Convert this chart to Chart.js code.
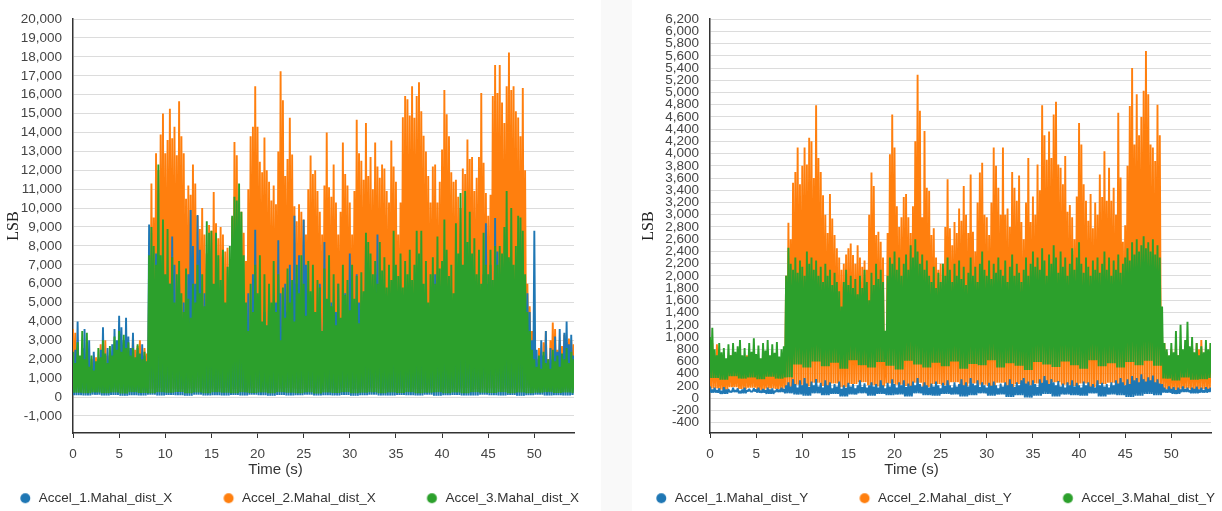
<!DOCTYPE html>
<html>
<head>
<meta charset="utf-8">
<script src="https://cdn.jsdelivr.net/npm/chart.js@4.4.1/dist/chart.umd.min.js"></script>
<style>
  html, body { margin: 0; padding: 0; background: #ffffff; overflow: hidden; width: 1222px; height: 511px; }
  #band { position: absolute; left: 601px; top: 0; width: 31px; height: 511px; background: #f9f9f9; }
  canvas { position: absolute; top: 0; }
</style>
</head>
<body>
<div id="band"></div>
<canvas id="chartX" width="625" height="515" style="left:-37px"></canvas>
<canvas id="chartY" width="625" height="515" style="left:599px"></canvas>
<script>
// ---------- data ----------
const SAMPLE_DT = 0.25;          // seconds between envelope samples
const seriesNamesX = ['Accel_1.Mahal_dist_X', 'Accel_2.Mahal_dist_X', 'Accel_3.Mahal_dist_X'];
const seriesNamesY = ['Accel_1.Mahal_dist_Y', 'Accel_2.Mahal_dist_Y', 'Accel_3.Mahal_dist_Y'];
const xAxisTitle = 'Time (s)';
const yAxisTitle = 'LSB';
const timeTicks = [0, 5, 10, 15, 20, 25, 30, 35, 40, 45, 50];
const lsbTicksX = [-1000, 0, 1000, 2000, 3000, 4000, 5000, 6000, 7000, 8000, 9000, 10000,
                   11000, 12000, 13000, 14000, 15000, 16000, 17000, 18000, 19000, 20000];
const lsbTicksY = [-400, -200, 0, 200, 400, 600, 800, 1000, 1200, 1400, 1600, 1800, 2000,
                   2200, 2400, 2600, 2800, 3000, 3200, 3400, 3600, 3800, 4000, 4200, 4400,
                   4600, 4800, 5000, 5200, 5400, 5600, 5800, 6000, 6200];

// Left chart (X) - local peak values, 4 per second
const accel1X = [
 1500,2500,4000,1800, 2600,3600,2000,3000, 1500,2400,1200,2000, 2500,3700,1800,2600,
 2000,2800,3600,3000, 4300,3700,3000,4200, 3200,2600,3400,2000, 2600,1800,2800,2200,
 1800,9130,6000,4500, 7600,3500,5000,3000, 4500,3000,6000,8500, 7000,4500,6000,3500,
 5000,4000,6500,9900, 8000,6000,9640,7800, 4000,5500,3000,4500, 3500,5500,3000,4000,
 5200,3000,4500,3500, 2500,4000,3000,4800, 3500,5000,3000,4000, 5500,3500,6500,8850,
 5200,4000,3000,4500, 3500,5500,3000,4000, 5000,8300,5500,3500, 6000,4500,7000,5000,
 9600,6000,7500,5000, 9380,7000,5500,4000, 5000,3000,4500,6000, 2500,8200,4000,3000,
 5000,3500,4500,6000, 3000,4000,5500,3500, 7600,4500,3000,6500, 5000,3500,5500,8000,
 4500,3000,5000,6500, 8600,5000,3500,4500, 3000,5500,4000,3000, 5000,3500,4500,3000,
 5500,4000,3000,4500, 3500,5000,3000,4000, 5500,3500,4500,3000, 4000,6500,5500,3500,
 4500,3000,5000,3500, 4000,3000,5500,4000, 3000,4500,3500,5000, 4000,3000,4500,5500,
 3500,4500,6500,9200, 6000,7000,5000,9480, 7700,5500,6500,4500, 3500,5000,3000,4500,
 3500,5000,4000,3000, 6000,5500,4500,3000, 8800,2500,1800,3000, 2200,3500,1800,2600,
 2000,3200,2400,3600, 2000,3400,4000,2800, 3300,2200
];
const accel2X = [
 3600,3400,2600,2000, 2400,1800,2300,1700, 2000,2200,2100,1600, 2800,2300,3000,2200,
 2400,1900,2800,2300, 2500,2000,2700,2900, 2400,2600,3300,2500, 2700,3000,2400,2600,
 2300,6000,11300,9500, 12900,12000,13900,15000, 12900,13600,15250,13700, 14300,12800,15650,13800,
 12900,10500,11200,10700, 12300,11300,9600,8900, 10000,8600,7600,9100, 8800,10850,9200,8400,
 9000,8600,7700,7900, 6800,9500,13500,12800, 7500,9800,8700,7200, 11000,13800,14300,16450,
 14300,12450,11900,13730, 12000,11400,10400,11200, 10200,13000,17240,15700, 11700,12600,14780,12840,
 10100,9300,10200,9800, 9400,8600,11000,12780, 11800,12000,10900,9800, 8600,11200,14000,11100,
 10600,12300,10300,8600, 9800,13470,11800,11200, 10300,8600,10900,14680, 12900,12500,11500,14500,
 11700,12700,11000,13470, 12200,11600,12300,12100, 10900,10300,13570,12200, 11400,8600,10300,14800,
 15930,15760,14900,16450, 14780,15930,16660,15130, 13830,13000,11700,10300, 12200,12300,10300,11400,
 13100,16250,14960,13800, 11900,11400,11500,10600, 10000,12100,11800,13630, 12600,12700,10900,11600,
 12700,16090,12400,10800, 9600,10700,15930,17570, 16090,17570,15590,14500, 16450,18230,16250,16450,
 15130,14790,13800,16350, 12000,6000,4800,3500, 2400,2000,2600,2200, 2900,3500,2000,3000,
 3950,3600,2500,3000, 2700,3300,2900,3100, 3000,2800
];
const accel3X = [
 2400,1800,2900,2200, 3500,2000,3400,1600, 2200,1400,1900,2600, 2100,3000,2300,1800,
 2700,2200,3200,2500, 3500,2400,3300,2600, 2900,2200,2600,2100, 2800,2300,2000,2400,
 1900,7500,9000,8000, 7000,12300,7500,9400, 6500,8900,6000,7400, 5000,6500,7200,5500,
 4500,6800,5200,4200, 6000,5000,7000,5500, 6500,4800,9300,8700, 8800,6000,8700,7500,
 6200,7800,5000,6900, 8000,9600,10600,10400, 11300,9800,7500,5000, 3500,6000,4500,7000,
 5500,7500,4000,6500, 3800,6000,5000,7200, 4500,6500,3000,5800, 4200,6800,5000,6200,
 4000,7000,5500,7500, 6000,4300,7200,5600, 7000,4500,6200,5800, 3500,6800,5200,7500,
 4800,6500,3800,6000, 4200,7000,5400,6200, 4600,7000,5200,6400, 3900,6600,5600,8700,
 8200,7600,6500,7200, 6000,8200,6700,7400, 5800,7000,6200,8800, 7000,6400,7600,5800,
 7200,6500,7800,6200, 7000,8800,7600,8800, 6000,7200,5000,6500, 7400,6000,8500,6800,
 7200,9400,7800,6400, 7000,5500,9200,7600, 10800,7000,10900,8200, 9800,7600,8400,6500,
 7800,6000,8700,7000, 6500,7800,6200,8000, 7000,8000,7600,9000, 10900,7400,10000,7000,
 8000,9600,9500,8800, 6500,4500,3500,2500, 2000,1600,2200,1500, 2400,1800,2000,1500,
 2500,1900,2200,1600, 2300,2000,2600,1800, 2400,2000
];
// Left chart (X) - local minima, 1 per second
const accel1XFloor = [
 100,80,120,90,110,70,100,90,120,80, 110,100,70,120,90,100,80,110,90,120,
 100,70,110,90,100,120,80,100,90,110, 70,100,120,90,80,110,100,90,120,70,
 100,110,90,80,120,100,90,110,70,100, 120,90,100,80,110
];
const accel2XFloor = [
 450,420,480,440,460,430,470,450,440,480, 460,430,450,470,440,460,480,430,450,470,
 440,460,450,480,430,470,450,440,460,480, 430,450,470,440,460,450,480,430,470,450,
 440,460,480,430,450,470,440,460,450,480, 430,470,450,440,460
];
const accel3XFloor = [
 230,200,250,210,240,190,260,220,200,250, 230,270,210,240,200,260,230,210,250,220,
 240,200,260,230,210,250,190,240,220,260, 200,230,250,210,240,220,260,200,230,250,
 210,240,200,260,230,220,250,210,240,200, 230,260,220,240,210
];

// Right chart (Y) - local peak values, 4 per second
const accel1Y = [
 190,140,170,130, 160,120,180,140, 150,110,170,130, 160,120,140,170,
 130,150,110,160, 140,170,120,150, 130,170,140,160, 120,150,140,170,
 150,210,260,190, 310,230,170,290, 210,330,240,180, 270,210,310,190,
 250,170,290,210, 260,160,230,190, 270,150,210,170, 250,190,230,160,
 210,290,180,240, 170,210,260,190, 230,170,290,210, 160,250,190,310,
 230,170,260,210, 290,180,240,200, 270,210,330,230, 190,260,210,170,
 240,190,270,210, 160,250,200,290, 210,170,260,190, 230,310,210,260,
 190,330,240,210, 290,180,260,210, 170,250,200,270, 210,160,240,190,
 260,210,310,230, 180,260,210,290, 330,240,270,210, 290,230,180,310,
 250,360,290,230, 310,260,210,280, 190,240,170,260, 210,290,190,250,
 210,170,270,210, 260,190,230,170, 290,210,250,190, 230,170,260,210,
 290,240,330,260, 210,310,230,360, 290,330,260,390, 310,270,340,290,
 370,260,310,240, 230,170,140,190, 150,180,130,170, 140,190,150,170,
 130,170,150,190, 140,170,130,180, 150,170
];
const accel2Y = [
 600,900,700,880, 500,650,450,600, 500,700,450,550, 650,480,600,500,
 700,450,550,650, 500,600,450,700, 500,600,480,650, 550,450,600,500,
 650,2000,2870,2600, 3525,3700,4100,3500, 3800,4100,3820,4260, 4200,3600,4790,3930,
 3700,3320,3000,2700, 3340,2940,2670,2450, 2300,2100,2200,2350, 2450,2530,2340,2200,
 2500,2300,2150,2250, 2100,3000,3690,3470, 2670,2720,2560,2300, 1000,2700,3990,4640,
 4100,3140,2800,2960, 3290,3340,2960,2700, 3140,4200,5290,4700, 2960,4370,3440,3390,
 2670,2780,2300,2100, 2200,2000,2800,3580, 2780,2500,2880,2700, 3100,2900,3470,3000,
 2700,3660,2720,2400, 3200,3690,3850,3000, 2960,2670,3200,4100, 3800,3440,3000,4100,
 3000,3100,2800,3700, 3440,3230,3640,2880, 2600,3200,3930,2880, 3300,3000,3820,3400,
 4790,4300,3900,4360, 3930,4640,4850,3820, 3770,3500,3960,3050, 3160,2960,2600,3300,
 4500,4150,3500,3230, 2900,3340,2780,3200, 3000,3660,3290,4040, 3230,3770,3230,3440,
 3000,4670,3610,2560, 2830,3800,4780,5400, 4150,4970,4300,4600, 5030,5680,4970,4150,
 4100,3880,4800,4300, 1000,900,750,600, 800,650,900,700, 850,600,750,950,
 700,850,650,900, 800,950,700,850, 750,900
];
const accel3Y = [
 1000,1150,800,700, 900,750,820,650, 880,700,900,760, 850,950,700,820,
 680,900,760,980, 720,860,650,900, 780,950,700,880, 740,920,680,800,
 850,2000,2460,2200, 2100,2300,2050,2250, 2150,2000,2400,2200, 2300,2100,2250,2000,
 2150,1900,2200,2000, 2100,1850,2050,1900, 1750,1500,1900,2100, 1850,2000,1800,1950,
 1700,2000,1800,2100, 1900,1600,2050,1850, 2200,1950,2100,1900, 1100,2000,2300,2200,
 2400,2100,2300,2000, 2200,2350,2100,2500, 2300,2600,2400,2200, 2350,2100,2250,2000,
 1900,2150,1800,2050, 1900,2200,2000,2300, 2100,1900,2200,2000, 2250,1950,2150,1850,
 2050,2300,2000,2150, 1900,2200,2400,2100, 2000,2250,1950,2200, 2050,2300,2100,2000,
 2250,1900,2150,2350, 2000,2200,2050,1900, 2100,2300,2000,2200, 2400,2150,2300,2100,
 2450,2250,2000,2350, 2200,2500,2300,2050, 2400,2150,2300,2000, 2200,2450,2100,2300,
 2550,2200,2050,2300, 2150,2000,2250,2100, 2300,2050,2200,2400, 2100,2300,2000,2250,
 2100,2350,2050,2200, 2300,2450,2250,2550, 2350,2600,2400,2500, 2650,2450,2550,2400,
 2600,2350,2500,2300, 1500,900,800,700, 900,750,1100,700, 1200,800,950,1250,
 850,1000,750,900, 700,850,750,950, 800,900
];
// Right chart (Y) - local minima, 1 per second
const accel1YFloor = [
 90,70,100,80,110,90,70,100,80,
 60,40,80,50,70,30,60,80,40,70, 50,60,30,80,50,40,70,60,30,50,
 80,40,60,20,50,10,40,70,30,60, 50,40,80,30,60,50,20,40,70,50,
 90,70,100,80,90,100
];
const accel2YFloor = [
 160,140,180,150,170,130,160,150,170,
 220,190,250,200,240,180,230,260,210,190, 240,220,200,250,180,230,210,260,190,240,
 220,200,250,180,230,210,240,190,260,220, 200,240,180,230,250,210,190,240,220,200,
 150,130,160,140,150,130
];
const accel3YFloor = [
 330,300,360,320,340,310,350,320,340,
 550,500,600,520,580,480,620,540,500,590, 530,470,610,550,500,580,520,600,480,560,
 540,620,500,570,530,460,590,550,510,600, 540,480,620,520,570,500,590,540,610,530,
 320,290,340,300,310,330
];

// ---------- build & draw ----------
const COLORS = ['#1f77b4', '#ff7f0e', '#2ca02c'];
const SANS = "'Liberation Sans', Arial, sans-serif";
const SERIF = "'Liberation Serif', 'Times New Roman', serif";
const LEGEND_BOX = 60;

function toPoints(peaks, floors) {
  const pts = [];
  for (let i = 0; i < peaks.length; i++) {
    const t = i * SAMPLE_DT;
    pts.push({ x: t, y: peaks[i] });
    pts.push({ x: t + SAMPLE_DT / 2, y: floors[Math.floor(t)] });
  }
  return pts;
}

function legendDot(color) {
  const c = document.createElement('canvas');
  c.width = LEGEND_BOX; c.height = 14;
  const g = c.getContext('2d');
  g.fillStyle = color;
  g.beginPath();
  g.arc(LEGEND_BOX - 6.75, 7, 5, 0, Math.PI * 2);
  g.fill();
  return c;
}

function fixedTicks(values) {
  return function (scale) { scale.ticks = values.map(v => ({ value: v })); };
}

function makeChart(id, names, peaks, floors, yMin, yMax, yTicks, topPad, yAxisW, rightW, titlePad) {
  const order = [1, 2, 0]; // green on top, orange at the back
  const datasets = names.map((n, k) => ({
    label: n,
    data: toPoints(peaks[k], floors[k]),
    borderColor: COLORS[k],
    backgroundColor: COLORS[k],
    borderWidth: 1.9,
    borderJoinStyle: 'bevel',
    pointRadius: 0,
    fill: false,
    tension: 0,
    order: order[k]
  }));
  return new Chart(document.getElementById(id), {
    type: 'line',
    data: { datasets },
    options: {
      responsive: false,
      devicePixelRatio: 1,
      animation: false,
      events: [],
      layout: { padding: { top: topPad, left: 0, right: 0, bottom: 0 } },
      scales: {
        x: {
          type: 'linear', min: 0, max: 54.3,
          afterBuildTicks: fixedTicks(timeTicks),
          ticks: { autoSkip: false, maxRotation: 0,
                   padding: 8, color: '#444', font: { family: SANS, size: 13.5 } },
          grid: { drawOnChartArea: false, drawTicks: true, tickLength: 5, tickColor: '#333', color: '#333' },
          border: { display: true, color: '#333', width: 1.5 },
          afterFit(s) { s.height = 28; }
        },
        y: {
          type: 'linear', min: yMin, max: yMax,
          afterBuildTicks: fixedTicks(yTicks),
          ticks: { autoSkip: false, padding: 11,
                   color: '#444', font: { family: SANS, size: 13.5 },
                   callback: v => Number(v).toLocaleString('en-US') },
          grid: { color: '#dcdcdc', drawTicks: false, lineWidth: 1 },
          border: { display: true, color: '#333', width: 1.5 },
          title: { display: true, text: yAxisTitle, color: '#222',
                   font: { family: SERIF, size: 16 }, padding: { top: titlePad, bottom: 0 } },
          afterFit(s) { s.width = yAxisW; }
        },
        y2: {
          position: 'right', display: true,
          grid: { display: false, drawOnChartArea: false },
          border: { display: false },
          ticks: { display: false },
          afterFit(s) { s.width = rightW; }
        }
      },
      plugins: {
        tooltip: { enabled: false },
        title: {
          display: true, text: xAxisTitle, position: 'bottom', weight: 500,
          color: '#333', font: { family: SANS, size: 15, weight: 'normal' },
          padding: { top: 0, bottom: 9.5 }
        },
        legend: {
          display: true, position: 'bottom', align: 'center',
          labels: {
            usePointStyle: true, pointStyleWidth: LEGEND_BOX, boxHeight: 13.5, padding: 3,
            color: '#333', font: { family: SANS, size: 13.5 },
            sort: (a, b) => a.datasetIndex - b.datasetIndex,
            generateLabels(chart) {
              const items = Chart.defaults.plugins.legend.labels.generateLabels(chart);
              items.forEach(it => { it.pointStyle = legendDot(COLORS[it.datasetIndex]); });
              return items;
            }
          }
        }
      }
    }
  });
}

makeChart('chartX', seriesNamesX, [accel1X, accel2X, accel3X],
          [accel1XFloor, accel2XFloor, accel3XFloor], -1900, 20000, lsbTicksX, 15, 110, 14, 41);
makeChart('chartY', seriesNamesY, [accel1Y, accel2Y, accel3Y],
          [accel1YFloor, accel2YFloor, accel3YFloor], -570, 6200, lsbTicksY, 18, 111, 13, 40);
</script>
</body>
</html>
